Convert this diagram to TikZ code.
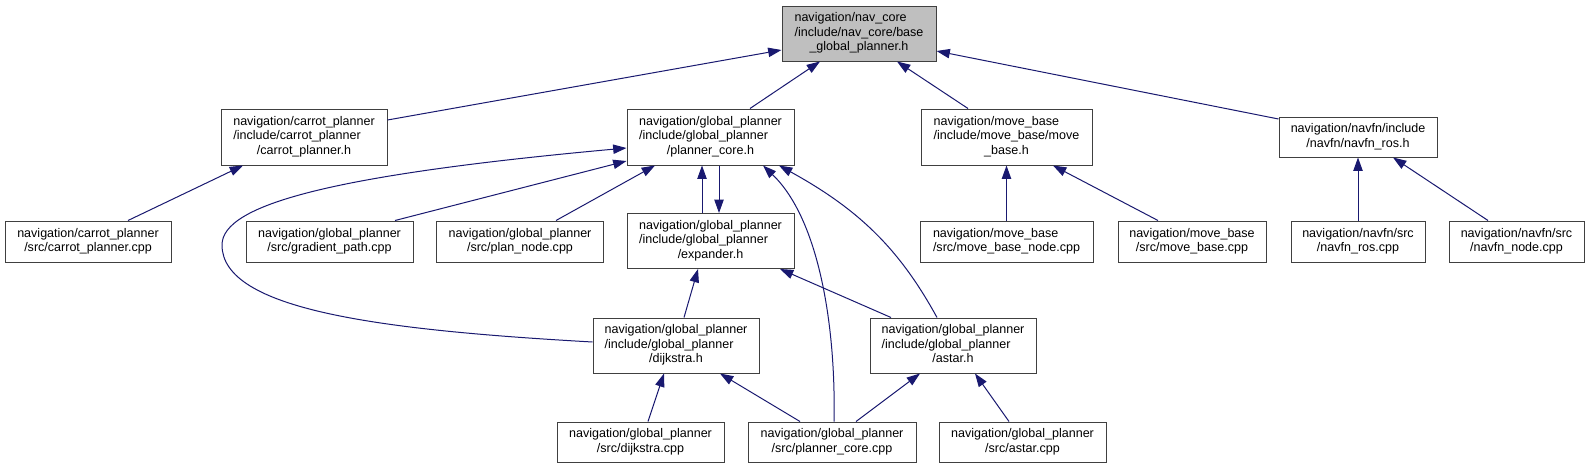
\documentclass[tikz,border=0pt]{standalone}
\usepackage{fontspec}
\setmainfont{Liberation Sans}
\usetikzlibrary{arrows.meta,calc}
\definecolor{edgeblue}{RGB}{25,25,112}
\definecolor{rootgray}{RGB}{191,191,191}
\newcommand{\twol}[2]{\begin{tabular}{@{}l@{}}#1\\\multicolumn{1}{@{}c@{}}{#2}\end{tabular}}
\newcommand{\threel}[3]{\begin{tabular}{@{}l@{}}#1\\#2\\\multicolumn{1}{@{}c@{}}{#3}\end{tabular}}
\begin{document}
\begin{tikzpicture}[x=0.75pt,y=-0.75pt,
 nd/.style={draw=black!75, line width=0.75pt, fill=white, inner sep=0pt, font=\fontsize{9.4}{10.9}\selectfont},
 bx/.style 2 args={minimum width=#1*0.75pt, minimum height=#2*0.75pt},
 edge/.style={draw=edgeblue, line width=0.75pt, -{Triangle[length=10pt,width=7pt,fill=edgeblue]}}]
\fill[white] (0,0) rectangle (1589,468);
\useasboundingbox (0,0) rectangle (1589,468);

% nodes
\node[nd, bx={154}{55}, fill=rootgray] (base) at (859,33.5) {\threel{navigation/nav\_core}{/include/nav\_core/base}{\_global\_planner.h}};
\node[nd, bx={166}{56}] (carrot_h) at (304,137) {\threel{navigation/carrot\_planner}{/include/carrot\_planner}{/carrot\_planner.h}};
\node[nd, bx={167}{56}] (pc_h) at (710.5,137) {\threel{navigation/global\_planner}{/include/global\_planner}{/planner\_core.h}};
\node[nd, bx={171}{56}] (mb_h) at (1006.5,137) {\threel{navigation/move\_base}{/include/move\_base/move}{\_base.h}};
\node[nd, bx={158}{40}] (navfn_h) at (1358,137) {\twol{navigation/navfn/include}{/navfn/navfn\_ros.h}};

\node[nd, bx={166}{41}] (carrot_cpp) at (88,241.5) {\twol{navigation/carrot\_planner}{/src/carrot\_planner.cpp}};
\node[nd, bx={167}{41}] (grad_cpp) at (329.5,241.5) {\twol{navigation/global\_planner}{/src/gradient\_path.cpp}};
\node[nd, bx={167}{41}] (plannode_cpp) at (520,241.5) {\twol{navigation/global\_planner}{/src/plan\_node.cpp}};
\node[nd, bx={167}{55}] (exp_h) at (710.5,241) {\threel{navigation/global\_planner}{/include/global\_planner}{/expander.h}};
\node[nd, bx={173}{41}] (mbnode_cpp) at (1006.5,241.5) {\twol{navigation/move\_base}{/src/move\_base\_node.cpp}};
\node[nd, bx={148}{41}] (mb_cpp) at (1192,241.5) {\twol{navigation/move\_base}{/src/move\_base.cpp}};
\node[nd, bx={134}{41}] (navros_cpp) at (1358,241.5) {\twol{navigation/navfn/src}{/navfn\_ros.cpp}};
\node[nd, bx={135}{41}] (navnode_cpp) at (1516.5,241.5) {\twol{navigation/navfn/src}{/navfn\_node.cpp}};

\node[nd, bx={166}{55}] (dij_h) at (676,345.5) {\threel{navigation/global\_planner}{/include/global\_planner}{/dijkstra.h}};
\node[nd, bx={166}{55}] (astar_h) at (953,345.5) {\threel{navigation/global\_planner}{/include/global\_planner}{/astar.h}};

\node[nd, bx={167}{40}] (dij_cpp) at (640.5,442) {\twol{navigation/global\_planner}{/src/dijkstra.cpp}};
\node[nd, bx={168}{40}] (pc_cpp) at (832,442) {\twol{navigation/global\_planner}{/src/planner\_core.cpp}};
\node[nd, bx={167}{40}] (astar_cpp) at (1022.5,442) {\twol{navigation/global\_planner}{/src/astar.cpp}};

% edges
\draw[edge] ($(carrot_h.east)+(0,-17)$) -- ($(base.west)+(0,16.5)$);
\draw[edge] ($(pc_h.north)+(39.5,0)$) -- ($(base.south)+(-39,0)$);
\draw[edge] ($(mb_h.north)+(-38.5,0)$) -- ($(base.south)+(38,0)$);
\draw[edge] ($(navfn_h.west)+(0,-18)$) -- ($(base.east)+(0,17.5)$);

\draw[edge] ($(carrot_cpp.north)+(40,0)$) -- ($(carrot_h.south)+(-61,0)$);
\draw[edge] ($(grad_cpp.north)+(65.5,0)$) -- ($(pc_h.west)+(0,24)$);
\draw[edge] ($(plannode_cpp.north)+(36,0)$) -- ($(pc_h.south)+(-55.5,0)$);
\draw[edge] ($(exp_h.north)+(-8.5,0)$) -- ($(pc_h.south)+(-8.5,0)$);
\draw[edge] ($(pc_h.south)+(8.5,0)$) -- ($(exp_h.north)+(8.5,0)$);

\draw[edge] ($(dij_h.west)+(0,-3.5)$) .. controls (380,330) and (222,310) .. (222,245)
  .. controls (222,205) and (330,175) .. ($(pc_h.west)+(0,11)$);
\draw[edge] ($(dij_h.north)+(8,0)$) -- ($(exp_h.south)+(-12.5,0)$);
\draw[edge] ($(astar_h.north)+(-16,0)$) .. controls (900,250) and (860,210) .. ($(pc_h.south)+(68.5,0)$);
\draw[edge] ($(astar_h.north)+(-62,0)$) -- ($(exp_h.south)+(69.5,0)$);

\draw[edge] ($(pc_cpp.north)+(2,0)$) .. controls (836,330) and (820,220) .. ($(pc_h.south)+(52.5,0)$);
\draw[edge] ($(pc_cpp.north)+(-32,0)$) -- ($(dij_h.south)+(44,0)$);
\draw[edge] ($(pc_cpp.north)+(24,0)$) -- ($(astar_h.south)+(-33,0)$);
\draw[edge] ($(dij_cpp.north)+(7.5,0)$) -- ($(dij_h.south)+(-12,0)$);
\draw[edge] ($(astar_cpp.north)+(-13.5,0)$) -- ($(astar_h.south)+(22,0)$);

\draw[edge] (mbnode_cpp.north) -- (mb_h.south);
\draw[edge] ($(mb_cpp.north)+(-34,0)$) -- ($(mb_h.south)+(46.5,0)$);
\draw[edge] (navros_cpp.north) -- (navfn_h.south);
\draw[edge] ($(navnode_cpp.north)+(-28.5,0)$) -- ($(navfn_h.south)+(35,0)$);
\end{tikzpicture}
\end{document}
